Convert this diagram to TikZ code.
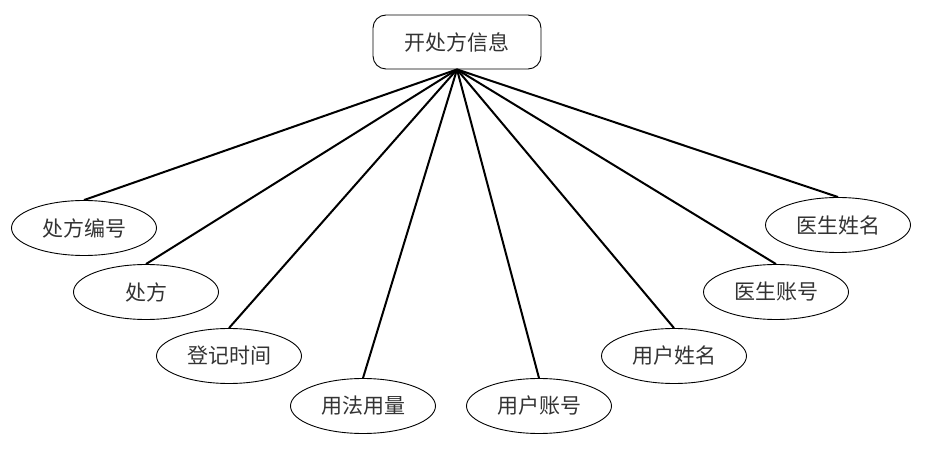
\documentclass[tikz,border=0pt]{standalone}
\usepackage{fontspec}
\setmainfont{Noto Sans CJK SC}
\usetikzlibrary{shapes.geometric}

\begin{document}
\begin{tikzpicture}[x=1pt, y=-1pt, every node/.style={font=\fontsize{21}{24}\selectfont, text=black!80}]
			\useasboundingbox (0,0) rectangle (930,449);
			\tikzset{attr/.style={ellipse, draw, line width=0.9pt, minimum width=145pt, minimum height=55pt, inner sep=0pt}}

			% Nodes
			\node[rectangle, rounded corners=13pt, draw, line width=0.9pt, minimum width=168pt, minimum height=54pt] (info) at (457,42) {开处方信息};
			\node[attr] (rxno) at (84,228) {处方编号};
			\node[attr] (rx) at (146,292) {处方};
			\node[attr] (time) at (229,356) {登记时间};
			\node[attr] (dose) at (363,406) {用法用量};
			\node[attr] (uacc) at (539,406) {用户账号};
			\node[attr] (uname) at (674,356) {用户姓名};
			\node[attr] (dacc) at (776,292) {医生账号};
			\node[attr] (dname) at (838,225) {医生姓名};

			% Links
			\foreach \n in {rxno, rx, time, dose, uacc, uname, dacc, dname}
				\draw[line width=2pt] (info.south) -- (\n.north);
		\end{tikzpicture}
\end{document}
